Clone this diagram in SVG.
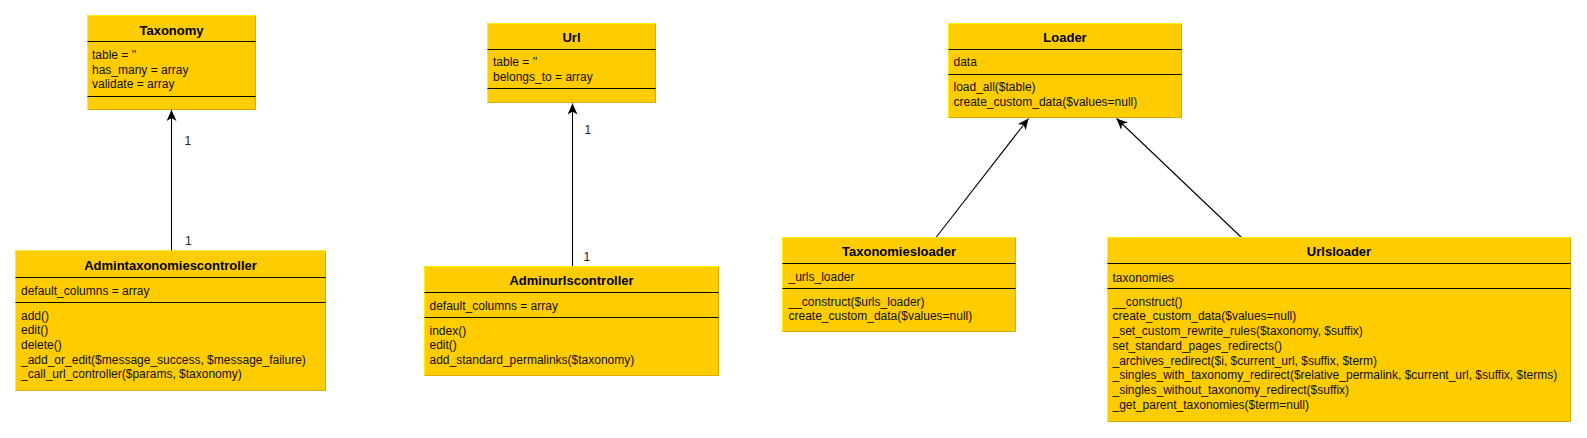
<svg xmlns="http://www.w3.org/2000/svg" width="1587" height="438" viewBox="0 0 1587 438">
<style>
.box{fill:#ffcc00;stroke:#d9ad00;stroke-width:1}
.hl{stroke:#fff000;stroke-width:1;fill:none}
.sep{stroke:#000;stroke-width:1.2}
.title{font-family:"Liberation Sans",Arial,sans-serif;font-size:13px;font-weight:bold;fill:#000;text-anchor:middle}
.t{font-family:"Liberation Sans",Arial,sans-serif;font-size:12px;fill:#111}
.edge{stroke:#000;stroke-width:1.1;fill:none;marker-end:url(#arr)}
.lbl{font-family:"Liberation Sans",Arial,sans-serif;font-size:12px;fill:#222}
</style>
<defs>
<marker id="arr" markerUnits="userSpaceOnUse" markerWidth="12" markerHeight="10" refX="11" refY="5" orient="auto">
<path d="M0,0 L11,5 L0,10 L3,5 z" fill="#000"/>
</marker>
</defs>
<rect width="1587" height="438" fill="#fff"/>
<g id="connectors">
<path class="edge" d="M171.5,251 L171.5,110"/>
<path class="edge" d="M572.5,266.5 L572.5,103.5"/>
<path class="edge" d="M936,237.5 L1028.5,118.5"/>
<path class="edge" d="M1241.5,237.5 L1116.5,118.5"/>
<text class="lbl" x="184.5" y="145">1</text>
<text class="lbl" x="185" y="244.5">1</text>
<text class="lbl" x="584.5" y="134">1</text>
<text class="lbl" x="583.5" y="261">1</text>
</g>
<g id="taxonomy">
<rect class="box" x="87.5" y="15.5" width="168" height="94"/>
<path class="hl" d="M87.5,109.5 V15.5 H255.5"/>
<line class="sep" x1="87.5" y1="41.5" x2="255.5" y2="41.5"/>
<line class="sep" x1="87.5" y1="96.5" x2="255.5" y2="96.5"/>
<text class="title" x="171.5" y="34.5">Taxonomy</text>
<text class="t" x="92" y="59">table = ''</text>
<text class="t" x="92" y="73.5">has_many = array</text>
<text class="t" x="92" y="88">validate = array</text>
</g>
<g id="admintaxonomiescontroller">
<rect class="box" x="15.5" y="251" width="310" height="139.5"/>
<path class="hl" d="M15.5,390.5 V251 H325.5"/>
<line class="sep" x1="15.5" y1="277.5" x2="325.5" y2="277.5"/>
<line class="sep" x1="15.5" y1="302.5" x2="325.5" y2="302.5"/>
<text class="title" x="170.5" y="270">Admintaxonomiescontroller</text>
<text class="t" x="21" y="295">default_columns = array</text>
<text class="t" x="21" y="319.5">add()</text>
<text class="t" x="21" y="334">edit()</text>
<text class="t" x="21" y="348.5">delete()</text>
<text class="t" x="21" y="363.5">_add_or_edit($message_success, $message_failure)</text>
<text class="t" x="21" y="378">_call_url_controller($params, $taxonomy)</text>
</g>
<g id="url">
<rect class="box" x="487.5" y="23.5" width="168" height="79"/>
<path class="hl" d="M487.5,102.5 V23.5 H655.5"/>
<line class="sep" x1="487.5" y1="49.5" x2="655.5" y2="49.5"/>
<line class="sep" x1="487.5" y1="88.5" x2="655.5" y2="88.5"/>
<text class="title" x="571.5" y="42">Url</text>
<text class="t" x="493" y="65.5">table = ''</text>
<text class="t" x="493" y="80.5">belongs_to = array</text>
</g>
<g id="adminurlscontroller">
<rect class="box" x="424.5" y="266.5" width="294" height="109"/>
<path class="hl" d="M424.5,375.5 V266.5 H718.5"/>
<line class="sep" x1="424.5" y1="292.5" x2="718.5" y2="292.5"/>
<line class="sep" x1="424.5" y1="317.5" x2="718.5" y2="317.5"/>
<text class="title" x="571.5" y="285">Adminurlscontroller</text>
<text class="t" x="429.5" y="310">default_columns = array</text>
<text class="t" x="429.5" y="335">index()</text>
<text class="t" x="429.5" y="349">edit()</text>
<text class="t" x="429.5" y="364">add_standard_permalinks($taxonomy)</text>
</g>
<g id="loader">
<rect class="box" x="948.5" y="23.5" width="233" height="94"/>
<path class="hl" d="M948.5,117.5 V23.5 H1181.5"/>
<line class="sep" x1="948.5" y1="49.5" x2="1181.5" y2="49.5"/>
<line class="sep" x1="948.5" y1="74.5" x2="1181.5" y2="74.5"/>
<text class="title" x="1065" y="42">Loader</text>
<text class="t" x="953.5" y="66">data</text>
<text class="t" x="953.5" y="91">load_all($table)</text>
<text class="t" x="953.5" y="105.5">create_custom_data($values=null)</text>
</g>
<g id="taxonomiesloader">
<rect class="box" x="782.5" y="237.5" width="233" height="94"/>
<path class="hl" d="M782.5,331.5 V237.5 H1015.5"/>
<line class="sep" x1="782.5" y1="263.5" x2="1015.5" y2="263.5"/>
<line class="sep" x1="782.5" y1="288.5" x2="1015.5" y2="288.5"/>
<text class="title" x="899" y="256">Taxonomiesloader</text>
<text class="t" x="788.5" y="281">_urls_loader</text>
<text class="t" x="788.5" y="306">__construct($urls_loader)</text>
<text class="t" x="788.5" y="320">create_custom_data($values=null)</text>
</g>
<g id="urlsloader">
<rect class="box" x="1107.5" y="237.5" width="463" height="184"/>
<path class="hl" d="M1107.5,421.5 V237.5 H1570.5"/>
<line class="sep" x1="1107.5" y1="263.5" x2="1570.5" y2="263.5"/>
<line class="sep" x1="1107.5" y1="288.5" x2="1570.5" y2="288.5"/>
<text class="title" x="1339" y="256">Urlsloader</text>
<text class="t" x="1112.5" y="281.5">taxonomies</text>
<text class="t" x="1112.5" y="305.5">__construct()</text>
<text class="t" x="1112.5" y="320.2">create_custom_data($values=null)</text>
<text class="t" x="1112.5" y="335">_set_custom_rewrite_rules($taxonomy, $suffix)</text>
<text class="t" x="1112.5" y="349.7">set_standard_pages_redirects()</text>
<text class="t" x="1112.5" y="364.5">_archives_redirect($i, $current_url, $suffix, $term)</text>
<text class="t" x="1112.5" y="379.2">_singles_with_taxonomy_redirect($relative_permalink, $current_url, $suffix, $terms)</text>
<text class="t" x="1112.5" y="394">_singles_without_taxonomy_redirect($suffix)</text>
<text class="t" x="1112.5" y="408.7">_get_parent_taxonomies($term=null)</text>
</g>
</svg>
